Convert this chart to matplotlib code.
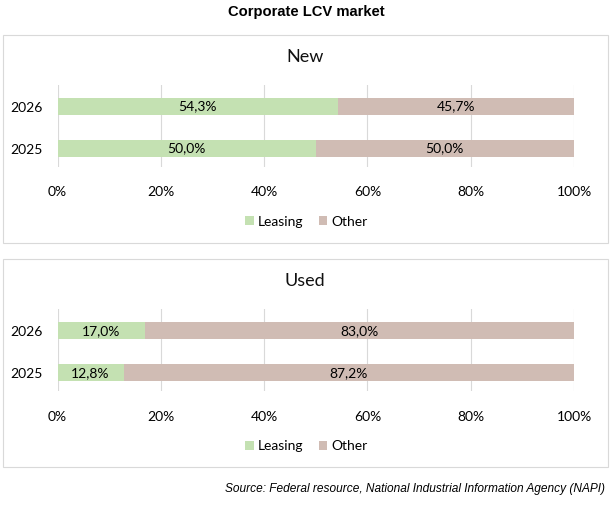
import matplotlib
matplotlib.use("Agg")
import matplotlib.pyplot as plt
from matplotlib.patches import Rectangle, Patch

# ---- data ----
years = ["2025", "2026"]
panel_titles = ["New", "Used"]
leasing_new = [50.0, 54.3]
other_new = [50.0, 45.7]
leasing_used = [12.8, 17.0]
other_used = [87.2, 83.0]
series_names = ["Leasing", "Other"]
xticks = [0, 20, 40, 60, 80, 100]
title = "Corporate LCV market"
source = "Source: Federal resource, National Industrial Information Agency (NAPI)"

GREEN = "#C4E1B2"
BROWN = "#D0BCB4"
GRID = "#D9D9D9"
FONT = ["Lato", "DejaVu Sans"]

W, H = 614, 505
fig = plt.figure(figsize=(W / 100, H / 100), dpi=100)

def fx(px):
    return px / W

def fy(py):
    return 1 - py / H

fig.text(fx(306), fy(12), title, ha="center", va="center",
         fontsize=10.6, fontweight="bold", family=["Liberation Sans", "DejaVu Sans"])
fig.text(fx(605), fy(489), source, ha="right", va="center",
         fontsize=8.6, style="italic", family=["Liberation Sans", "DejaVu Sans"])

panels = [(panel_titles[0], leasing_new, other_new), (panel_titles[1], leasing_used, other_used)]
offset = 224.3
for i, (ptitle, lv, ov) in enumerate(panels):
    dy = i * offset
    # panel box
    box = Rectangle((fx(2.5), fy(242.7 + dy)), fx(607.7) - fx(2.5), (242.7 - 35) / H,
                    transform=fig.transFigure, fill=False, edgecolor=GRID, linewidth=0.8)
    fig.add_artist(box)
    fig.text(fx(305), fy(57 + dy), ptitle, ha="center", va="center",
             fontsize=13, family=FONT, color="#111111")

    top, bot = 85 + dy, 167 + dy
    ax = fig.add_axes([fx(57.5), fy(bot), (574 - 57.5) / W, (bot - top) / H])
    ypos = list(range(len(years)))
    ax.barh(ypos, lv, height=0.405, color=GREEN, zorder=3, label=series_names[0])
    ax.barh(ypos, ov, left=lv, height=0.405, color=BROWN, zorder=3, label=series_names[1])
    for y, l, o in zip(ypos, lv, ov):
        ax.text(l / 2, y, f"{l:.1f}%".replace(".", ","), ha="center", va="center",
                fontsize=10, family=FONT, zorder=4, color="black")
        ax.text(l + o / 2, y, f"{o:.1f}%".replace(".", ","), ha="center", va="center",
                fontsize=10, family=FONT, zorder=4, color="black")
    ax.set_xlim(0, 100)
    ax.set_ylim(-0.44, 1.512)
    ax.set_xticks(xticks)
    ax.set_xticklabels([f"{t}%" for t in xticks], family=FONT, fontsize=10)
    ax.set_yticks(ypos)
    ax.set_yticklabels(years, family=FONT, fontsize=10)
    ax.tick_params(axis="x", length=0, pad=14)
    ax.tick_params(axis="y", length=0, pad=11)
    for s in ax.spines.values():
        s.set_visible(False)
    ax.grid(axis="x", color=GRID, linewidth=0.8, zorder=0)
    ax.set_axisbelow(True)
    handles = [Patch(facecolor=GREEN, edgecolor="none"), Patch(facecolor=BROWN, edgecolor="none")]
    ax.legend(handles, series_names, loc="center", ncol=2, frameon=False,
              bbox_to_anchor=(fx(306.5), fy(221.7 + dy)), bbox_transform=fig.transFigure,
              prop={"family": FONT, "size": 10}, handlelength=0.6, handleheight=0.6,
              handletextpad=0.3, columnspacing=1.1)

fig.savefig("out.png", dpi=100)
